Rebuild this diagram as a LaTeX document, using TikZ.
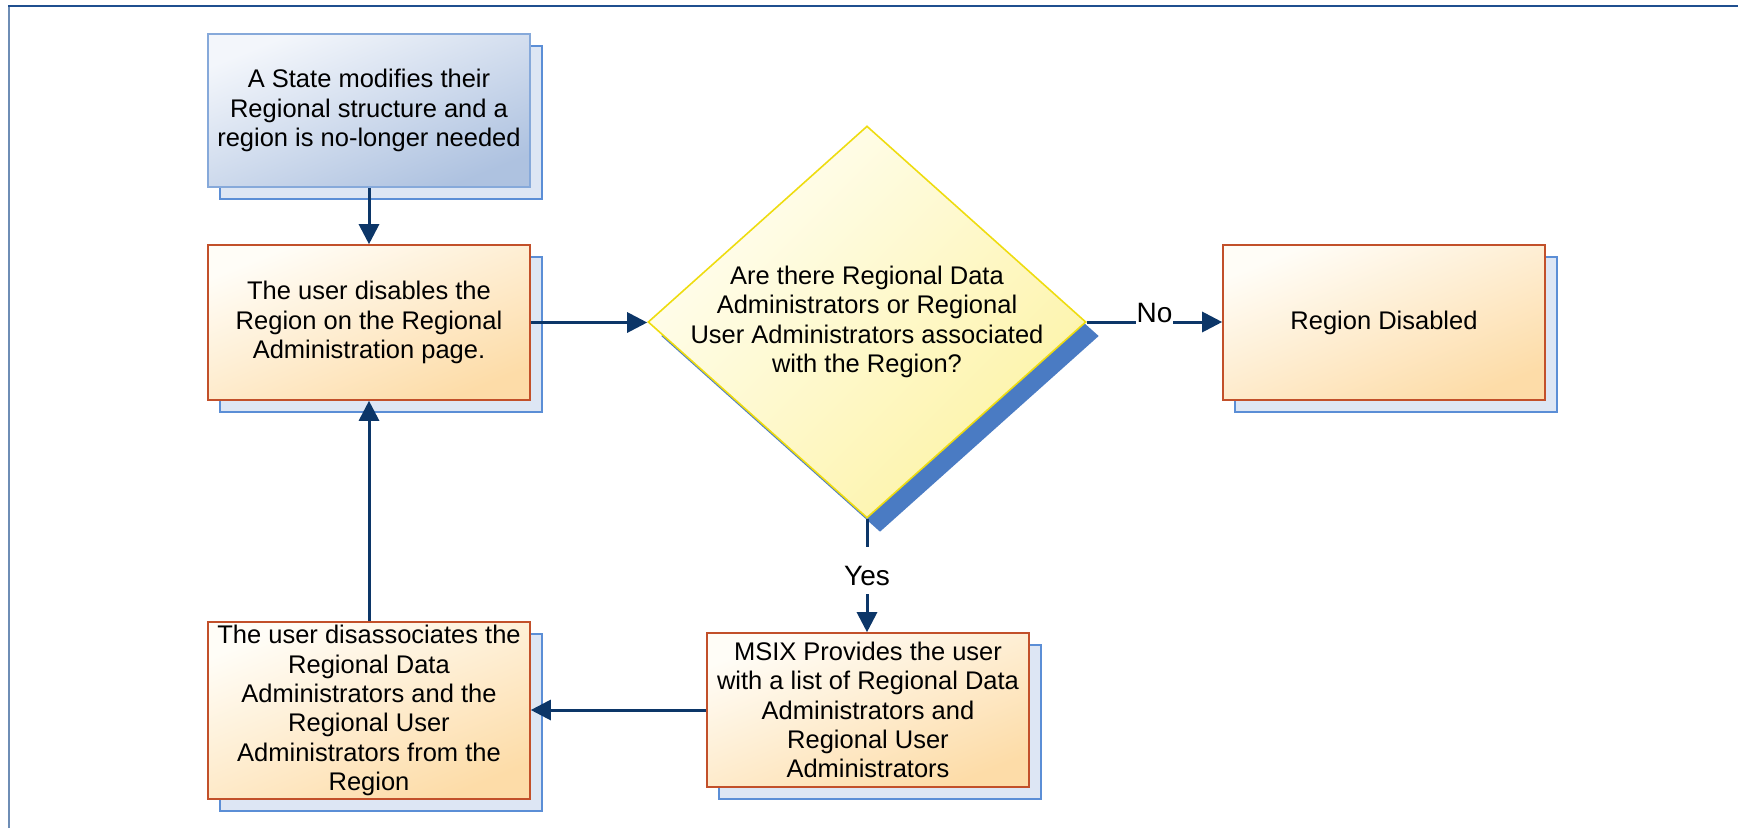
\documentclass[tikz,border=0pt]{standalone}
\usepackage{fontspec}
\setmainfont{Liberation Sans}
\usetikzlibrary{arrows.meta,shapes.geometric,shadows}
\definecolor{boxborder}{HTML}{C2502A}
\definecolor{orlight}{HTML}{FFFDF7}
\definecolor{ordark}{HTML}{FDDCA8}
\definecolor{shfill}{HTML}{DDE6F4}
\definecolor{shdraw}{HTML}{5B8ED6}
\definecolor{bllight}{HTML}{F3F6FB}
\definecolor{bldark}{HTML}{AEC2E0}
\definecolor{blborder}{HTML}{86A9DA}
\definecolor{ylight}{HTML}{FFFEF2}
\definecolor{ydark}{HTML}{FDF3A6}
\definecolor{yborder}{HTML}{EEDC10}
\definecolor{dshadow}{HTML}{4A7BC3}
\definecolor{navy}{HTML}{0C3668}
\definecolor{frametop}{HTML}{1F4F8F}
\definecolor{frameleft}{HTML}{6E8DB5}
\newcommand{\txtfont}{\fontsize{25.5pt}{29.3pt}\selectfont}
\newcommand{\lblfont}{\fontsize{28pt}{32pt}\selectfont}
\begin{document}
\begin{tikzpicture}[x=1pt,y=-1pt,
  boxshadow/.style={drop shadow={shadow xshift=12pt,shadow yshift=-12pt,opacity=1,fill=shfill,draw=shdraw,line width=1.8pt}},
  proc/.style={rectangle,draw=boxborder,line width=1.6pt,top color=orlight,bottom color=ordark,shading angle=22,
    minimum width=322pt,inner sep=0pt,align=center,font=\txtfont,boxshadow},
  startbox/.style={proc,draw=blborder,top color=bllight,bottom color=bldark,shading angle=22},
  decision/.style={diamond,draw=yborder,line width=1.6pt,top color=ylight,bottom color=ydark,shading angle=45,
    minimum width=438pt,minimum height=392pt,inner sep=0pt,
    drop shadow={shadow xshift=13pt,shadow yshift=-14pt,opacity=1,fill=dshadow}},
  dtext/.style={align=center,font=\txtfont,inner sep=0pt},
  conn/.style={draw=navy,line width=3pt,-{Triangle[length=20pt,width=20pt]}},
  lbl/.style={fill=white,font=\lblfont,inner xsep=1pt,inner ysep=3pt,text depth=0pt}
]
\useasboundingbox (0,0) rectangle (1738,828);
\draw[frameleft,line width=2.2pt] (9,828) -- (9,6);
\draw[frametop,line width=2pt] (8,6) -- (1738,6);

\node[startbox,minimum height=153pt] (b1) at (369,110.5)
  {A State modifies their\\Regional structure and a\\region is no-longer needed};
\node[proc,minimum height=155pt] (b2) at (369,322.5)
  {The user disables the\\Region on the Regional\\Administration page.};
\node[decision] (d) at (867,322) {};
\node[dtext] (dt) at (867,322)
  {Are there Regional Data\\Administrators or Regional\\User Administrators associated\\with the Region?};
\node[proc,minimum height=155pt] (rd) at (1384,322.5) {Region Disabled};
\node[proc,minimum height=177pt] (b4) at (369,710.5)
  {The user disassociates the\\Regional Data\\Administrators and the\\Regional User\\Administrators from the\\Region};
\node[proc,minimum height=154pt] (ms) at (868,710)
  {MSIX Provides the user\\with a list of Regional Data\\Administrators and\\Regional User\\Administrators};

\draw[conn] (b1) -- (b2);
\draw[conn] (b2.east) -- (b2.east -| d.west);
\draw[conn] (d.east) -- node[lbl,anchor=base] {No} (d.east -| rd.west);
\draw[conn] (d.south) -- node[lbl,anchor=base,yshift=-9.5pt,text height=29pt,inner ysep=9pt] {Yes} (d.south |- ms.north);
\draw[conn] (ms.west) -- (ms.west -| b4.east);
\draw[conn] (b4) -- (b2);
\end{tikzpicture}
\end{document}
